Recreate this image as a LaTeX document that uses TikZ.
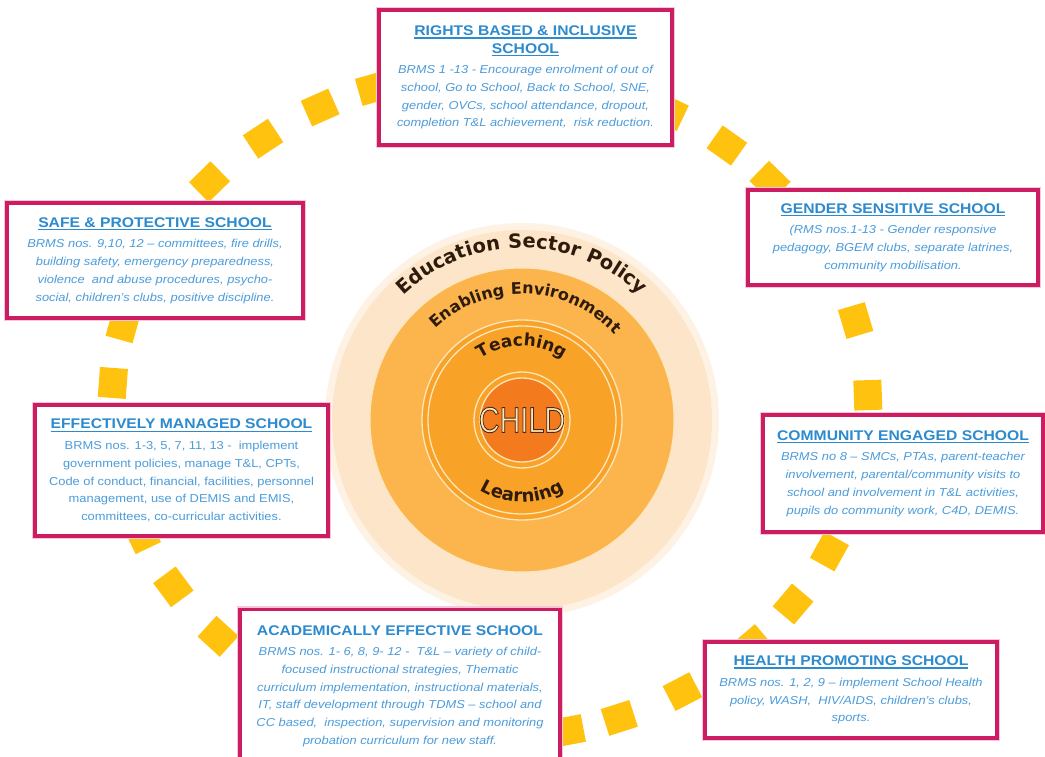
\documentclass[tikz,border=0pt]{standalone}
\usepackage{fontspec}
\setmainfont{Liberation Sans}[FakeStretch=1.12]
\newfontfamily\arcfont{DejaVu Sans}[LetterSpace=4]
\newfontfamily\childfont{Liberation Sans}
\usetikzlibrary{decorations.text}
\definecolor{boxmag}{HTML}{CC1D62}
\definecolor{boxglow}{HTML}{F7C6DA}
\definecolor{titleblue}{HTML}{2C8ACF}
\definecolor{bodyblue}{HTML}{4B9CDB}
\definecolor{dashyellow}{HTML}{FFC20E}
\definecolor{outerpeach}{HTML}{FDE5C9}
\definecolor{outerglow}{HTML}{FEF2E4}
\definecolor{enabling}{HTML}{FBB54C}
\definecolor{teaching}{HTML}{F9A228}
\definecolor{core}{HTML}{F47A1E}
\definecolor{cream}{HTML}{FDE6BC}
\definecolor{arcbrown}{HTML}{2E1B0C}
\newsavebox\ulbox
\newcommand\ulin[1]{\sbox\ulbox{#1}\rlap{\rule[-3.2pt]{\wd\ulbox}{1.6pt}}\usebox\ulbox}
\newcommand\ttl[1]{{\fontsize{14}{17.7}\selectfont\bfseries\upshape\color{titleblue}#1}}
\newcommand\childtext[1]{\special{pdf:code 2 Tr 0.9 w 0.29 0.16 0.06 RG}#1\special{pdf:code 0 Tr}}
\tikzset{
  schoolbox/.style={draw=boxmag, line width=3.2pt, fill=white, align=center, inner sep=0pt,
    preaction={draw=boxglow, line width=6.5pt},
    font=\fontsize{11.5}{17.7}\selectfont\itshape, text=bodyblue},
  uprightbody/.style={font=\fontsize{11.5}{17.7}\selectfont\upshape},
  ringline/.style={draw=cream, line width=1.3pt},
  arcdeco/.style={decorate, decoration={text along path, text color=arcbrown, text align=center, text={#1}}}
}
\begin{document}
\begin{tikzpicture}[x=1pt,y=1pt]
\useasboundingbox[fill=white] (0,0) rectangle (1045,756);
\coordinate (C) at (522,336);
% ring of yellow squares along an ellipse
\foreach \t in {1.7,14.7,28,42.2,51.2,61.7,71,80,89,99,108,116.7,126.9,137.9,152,166.1,176.2,189.5,202.9,213.1,224,234,244,254,264,273,282,290,300.6,314,323.3,333.9,348}{
  \pgfmathsetmacro\ang{atan2(333*cos(\t),-378*sin(\t))}
  \fill[dashyellow, shift={({490+378*cos(\t)},{351+333*sin(\t)})}, rotate=\ang] (-15,-14) rectangle (15,14);
}
% concentric circles
\fill[outerglow] (C) circle[radius=197];
\fill[outerpeach] (C) circle[radius=190];
\fill[enabling] (C) circle[radius=152];
\draw[ringline, line width=1pt] (C) circle[radius=152];
\fill[teaching] (C) circle[radius=100];
\draw[ringline] (C) circle[radius=100];
\draw[ringline] (C) circle[radius=94];
\fill[core] (C) circle[radius=42];
\draw[ringline] (C) circle[radius=42];
\draw[ringline] (C) circle[radius=48];
% curved labels
\path[shift={(522,336)}, arcdeco={|\arcfont\bfseries\fontsize{19.5}{19.5}\selectfont|Education Sector Policy}]
  (175:172) arc[start angle=175, end angle=5, radius=172];
\path[shift={(522,336)}, arcdeco={|\arcfont\bfseries\fontsize{16}{16}\selectfont|Enabling Environment}]
  (178:126) arc[start angle=178, end angle=-2, radius=126];
\path[shift={(522,336)}, arcdeco={|\arcfont\bfseries\fontsize{17}{17}\selectfont|Teaching}]
  (175:74) arc[start angle=175, end angle=5, radius=74];
\path[shift={(522,336)}, arcdeco={|\arcfont\bfseries\fontsize{18}{18}\selectfont|Learning}]
  (185:82) arc[start angle=185, end angle=355, radius=82];
\node[font=\childfont\fontsize{36}{36}\selectfont, text=cream, xscale=0.8, transform shape] (child) at (C) {\childtext{CHILD}};
% boxes
\node[schoolbox, minimum width=293pt, minimum height=135pt] (rights) at (525.5,678.5) {%
\ttl{\ulin{RIGHTS BASED \& INCLUSIVE}}\\
\ttl{\ulin{SCHOOL}}\\[3pt]
BRMS 1 -13 - Encourage enrolment of out of\\
school, Go to School, Back to School, SNE,\\
gender, OVCs, school attendance, dropout,\\
completion T\&L achievement,\ \ risk reduction.};
\node[schoolbox, minimum width=296pt, minimum height=115pt] (safe) at (155,495.5) {%
\ttl{\ulin{SAFE \& PROTECTIVE SCHOOL}}\\[3pt]
BRMS nos. 9,10, 12 -- committees, fire drills,\\
building safety, emergency preparedness,\\
violence\ \ and abuse procedures, psycho-\\
social, children's clubs, positive discipline.};
\node[schoolbox, minimum width=290pt, minimum height=95pt] (gender) at (893,518.5) {%
\ttl{\ulin{GENDER SENSITIVE SCHOOL}}\\[3pt]
(RMS nos.1-13 - Gender responsive\\
pedagogy, BGEM clubs, separate latrines,\\
community mobilisation.};
\node[schoolbox, uprightbody, minimum width=293pt, minimum height=131pt] (managed) at (181.5,285.5) {%
\ttl{\ulin{EFFECTIVELY MANAGED SCHOOL}}\\[3pt]
BRMS nos. 1-3, 5, 7, 11, 13 -\ \ implement\\
government policies, manage T\&L, CPTs,\\
Code of conduct, financial, facilities, personnel\\
management, use of DEMIS and EMIS,\\
committees, co-curricular activities.};
\node[schoolbox, minimum width=280pt, minimum height=117pt] (community) at (903,282.5) {%
\ttl{\ulin{COMMUNITY ENGAGED SCHOOL}}\\[3pt]
BRMS no 8 -- SMCs, PTAs, parent-teacher\\
involvement, parental/community visits to\\
school and involvement in T\&L activities,\\
pupils do community work, C4D, DEMIS.};
\node[schoolbox, minimum width=320pt, minimum height=153pt] (academic) at (400,70) {%
\ttl{ACADEMICALLY EFFECTIVE SCHOOL}\\[3pt]
BRMS nos. 1- 6, 8, 9- 12 -\ \ T\&L -- variety of child-\\
focused instructional strategies, Thematic\\
curriculum implementation, instructional materials,\\
IT, staff development through TDMS -- school and\\
CC based,\ \ inspection, supervision and monitoring\\
probation curriculum for new staff.};
\node[schoolbox, minimum width=292pt, minimum height=96pt] (health) at (851,66) {%
\ttl{\ulin{HEALTH PROMOTING SCHOOL}}\\[3pt]
BRMS nos. 1, 2, 9 -- implement School Health\\
policy, WASH,\ \ HIV/AIDS, children's clubs,\\
sports.};
\end{tikzpicture}
\end{document}
